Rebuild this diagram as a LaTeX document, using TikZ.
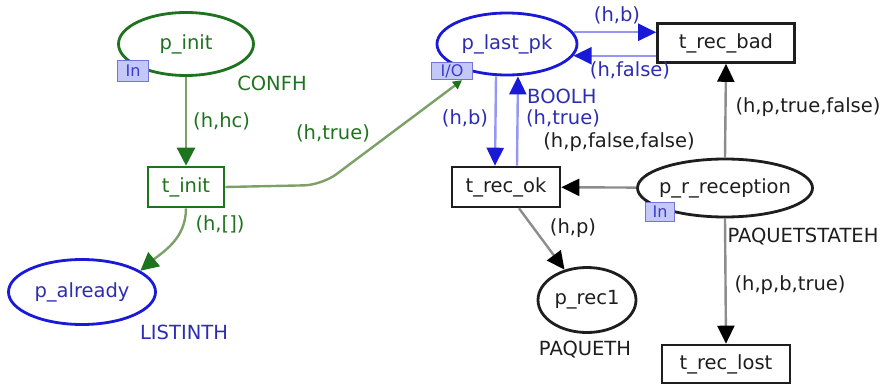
\documentclass[tikz,border=0pt]{standalone}
\usepackage{fontspec}
\setmainfont{DejaVu Sans}
\usetikzlibrary{shapes.geometric, arrows.meta, positioning}
\definecolor{cpngreen}{RGB}{30,115,30}
\definecolor{cpnblue}{RGB}{25,25,215}
\definecolor{cpnbluetext}{RGB}{45,45,180}
\definecolor{cpnblack}{RGB}{30,30,30}
\definecolor{arcgreenline}{RGB}{125,160,105}
\definecolor{arcblueline}{RGB}{150,150,245}
\definecolor{arcblackline}{RGB}{140,140,140}
\definecolor{tagfill}{RGB}{195,200,248}
\definecolor{tagborder}{RGB}{115,115,220}
\definecolor{tagtext}{RGB}{60,60,200}
\tikzset{
    place/.style={ellipse, line width=2.8pt, inner sep=0pt, fill=white},
    trans/.style={rectangle, line width=2.6pt, inner sep=0pt, fill=white},
    tag/.style={rectangle, draw=tagborder, fill=tagfill, text=tagtext, line width=1.4pt, inner sep=0pt, font=\fontsize{16}{16}\selectfont},
    lbl/.style={inner sep=0pt},
    arcgreen/.style={line width=2.4pt, draw=arcgreenline, -{Triangle[length=18pt,width=18pt,color=cpngreen]}},
    arcblue/.style={line width=2.4pt, draw=arcblueline, -{Triangle[length=18pt,width=17pt,color=cpnblue]}},
    arcblack/.style={line width=2.4pt, draw=arcblackline, -{Triangle[length=18pt,width=17pt,color=black]}}
}
\begin{document}
\begin{tikzpicture}[x=1pt, y=-1pt, font=\fontsize{19.5}{22}\selectfont]
        \useasboundingbox (0,0) rectangle (884,385);
        % Places
        \node (pinit) [place, draw=cpngreen, minimum width=135pt, minimum height=63pt, label={[text=cpngreen]center:p\_init}] at (186,44) {};
        \node (palready) [place, draw=cpnblue, minimum width=147pt, minimum height=65pt, label={[text=cpnbluetext]center:p\_already}] at (82,292) {};
        \node (plastpk) [place, draw=cpnblue, minimum width=140pt, minimum height=62pt, label={[text=cpnbluetext]center:p\_last\_pk}] at (507,44) {};
        \node (precept) [place, draw=cpnblack, minimum width=175pt, minimum height=58pt, label={[text=cpnblack]center:p\_r\_reception}] at (725,188) {};
        \node (prec) [place, draw=cpnblack, minimum width=98pt, minimum height=65pt, label={[text=cpnblack]center:p\_rec1}] at (587,300) {};

        % Transitions
        \node (tinit) [trans, draw=cpngreen, text=cpngreen, minimum width=76pt, minimum height=40pt] at (186,187) {t\_init};
        \node (trecok) [trans, draw=cpnblack, text=cpnblack, minimum width=108pt, minimum height=40pt] at (506,187) {t\_rec\_ok};
        \node (trecbad) [trans, draw=cpnblack, text=cpnblack, minimum width=137pt, minimum height=39pt] at (726,43) {t\_rec\_bad};
        \node (treclost) [trans, draw=cpnblack, text=cpnblack, minimum width=128pt, minimum height=38pt] at (726,364) {t\_rec\_lost};

        % Colour sets
        \node (cconfh) [lbl, text=cpngreen] at (272,83) {CONFH};
        \node (clistinth) [lbl, text=cpnbluetext] at (184,332) {LISTINTH};
        \node (cboolh) [lbl, text=cpnbluetext, anchor=west] at (527,96) {BOOLH};
        \node (cpaqstate) [lbl, text=cpnblack] at (803,237) {PAQUETSTATEH};
        \node (cpaqueth) [lbl, text=cpnblack] at (585,350) {PAQUETH};

        % Port tags
        \node (tagpinit) [tag, minimum width=31pt, minimum height=21pt] at (133,71) {In};
        \node (tagplast) [tag, minimum width=41pt, minimum height=17pt] at (452,71) {I/O};
        \node (tagprecept) [tag, minimum width=29pt, minimum height=19pt] at (660,212) {In};

        % Arcs
        \coordinate (bend) at (322,185);
        \draw [arcgreen] (pinit) -- node[lbl, text=cpngreen, right=6pt] {(h,hc)} (tinit);
        \draw [arcgreen] (tinit.south) to[out=-90, in=40] (palready.20);
        \draw [arcgreen, rounded corners=18pt, -{Triangle[length=9pt,width=9pt,color=cpngreen]}] (tinit.east) -- (bend) -- ([xshift=10pt]tagplast.south);
        \node (lhtrue) [lbl, text=cpngreen] at (333,133) {(h,true)};
        \node (lhnil) [lbl, text=cpngreen] at (220,224) {(h,[])};
        \draw [arcblue] ([xshift=-11pt]plastpk.south) -- ([xshift=-11pt]trecok.north);
        \draw [arcblue] ([xshift=11pt]trecok.north) -- ([xshift=11pt]plastpk.south);
        \node (lhb) [lbl, text=cpnbluetext] at (465,118) {(h,b)};
        \node (lhtrueok) [lbl, text=cpnbluetext] at (563,118) {(h,true)};
        \draw [arcblue] (plastpk.10) -- (plastpk.10 -| trecbad.west);
        \draw [arcblue] (plastpk.-10 -| trecbad.west) -- (plastpk.-10);
        \node (lhbbad) [lbl, text=cpnbluetext] at (617,15) {(h,b)};
        \node (lhfalse) [lbl, text=cpnbluetext] at (630,70) {(h,false)};
        \draw [arcblack] (precept) -- (trecok);
        \node (lpff) [lbl, text=cpnblack] at (619,142) {(h,p,false,false)};
        \draw [arcblack] (precept.north) -- (trecbad.south);
        \node (lptf) [lbl, text=cpnblack] at (808,107) {(h,p,true,false)};
        \draw [arcblack] (precept.south) -- (treclost.north);
        \node (lpbt) [lbl, text=cpnblack] at (790,285) {(h,p,b,true)};
        \draw [arcblack] ([xshift=13pt]trecok.south) -- (prec);
        \node (lhp) [lbl, text=cpnblack] at (573,228) {(h,p)};
    \end{tikzpicture}
\end{document}
